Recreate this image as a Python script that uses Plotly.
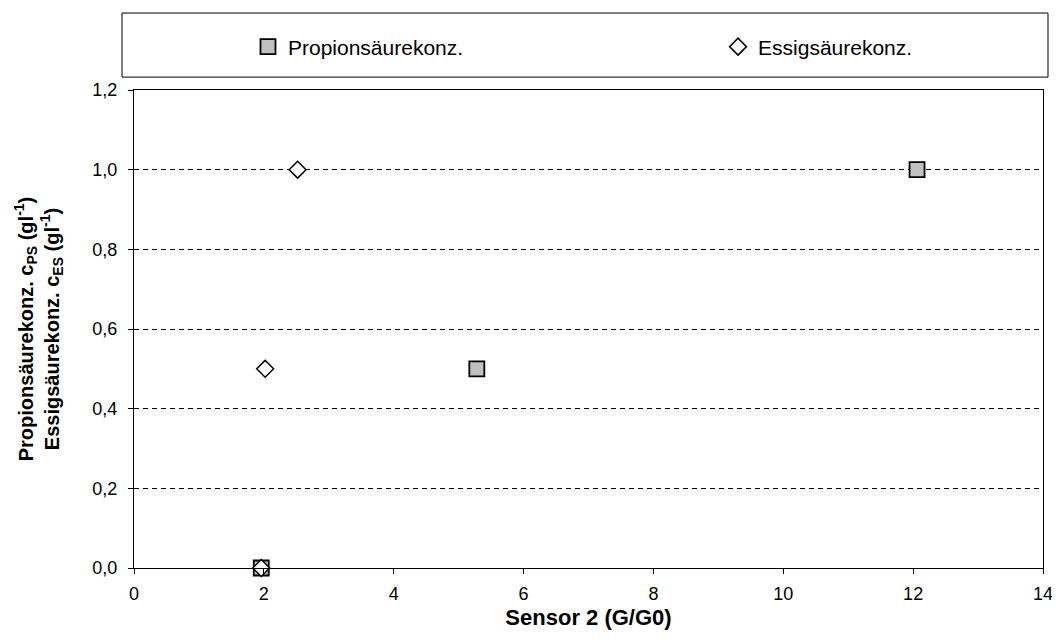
import plotly.graph_objects as go

# Data
ps_x = [1.96, 5.28, 12.06]
ps_y = [0.0, 0.5, 1.0]
es_x = [1.96, 2.02, 2.52]
es_y = [0.0, 0.5, 1.0]
ps_name = "Propionsäurekonz."
es_name = "Essigsäurekonz."
x_title = "Sensor 2 (G/G0)"
y_title = ("Propionsäurekonz. c<sub>PS</sub> (gl<sup>-1</sup>)<br>"
           "Essigsäurekonz. c<sub>ES</sub> (gl<sup>-1</sup>)")
x_ticks = [0, 2, 4, 6, 8, 10, 12, 14]
y_ticks = [0.0, 0.2, 0.4, 0.6, 0.8, 1.0, 1.2]

FONT = "Liberation Sans, Arial, sans-serif"

fig = go.Figure()
fig.add_trace(go.Scatter(
    x=ps_x, y=ps_y, mode="markers", name=ps_name, legend="legend",
    marker=dict(symbol="square", size=15, color="#C0C0C0",
                line=dict(color="black", width=1.8)),
    cliponaxis=False,
))
fig.add_trace(go.Scatter(
    x=es_x, y=es_y, mode="markers", name=es_name, legend="legend2",
    marker=dict(symbol="diamond", size=13, color="white",
                line=dict(color="black", width=1.5)),
    cliponaxis=False,
))

leg_common = dict(
    orientation="h", yanchor="middle", y=1.09, xanchor="left",
    bgcolor="rgba(0,0,0,0)", borderwidth=0, itemwidth=30,
    font=dict(family=FONT, size=21, color="black"),
)

# The page body has an 8px margin: keep the figure inside the window
fig.update_layout(
    width=1044, height=624,
    paper_bgcolor="white", plot_bgcolor="white",
    margin=dict(l=126, r=9, t=82, b=64, autoexpand=False),
    font=dict(family=FONT, size=18, color="black"),
    separators=", ",
    showlegend=True,
    legend=dict(x=0.1254, **leg_common),
    legend2=dict(x=0.6425, **leg_common),
    shapes=[dict(
        type="rect", xref="paper", yref="paper",
        x0=-0.0132, x1=1.0055, y0=1.027, y1=1.161,
        line=dict(color="black", width=1), fillcolor="rgba(0,0,0,0)",
    )],
    xaxis=dict(
        range=[0, 14], tickvals=x_ticks, ticks="outside", ticklen=5,
        tickcolor="black", showline=True, linecolor="black", linewidth=1,
        mirror=True, showgrid=False, zeroline=False, automargin=False,
        tickfont=dict(size=18), ticklabelstandoff=4, ticklabeloverflow="allow",
        title=dict(text="<b>" + x_title + "</b>", font=dict(size=22), standoff=7),
    ),
    yaxis=dict(
        range=[0, 1.2], tickvals=y_ticks, tickformat=".1f", ticks="outside",
        ticklen=5, tickcolor="black", showline=True, linecolor="black",
        linewidth=1, mirror=True, showgrid=True, gridcolor="black",
        gridwidth=1, griddash="5px,4px", zeroline=False, automargin=False,
        tickfont=dict(size=18), ticklabelstandoff=7,
        title=dict(text="<b>" + y_title + "</b>", font=dict(size=20), standoff=27),
    ),
)

fig.write_html("out.html")
